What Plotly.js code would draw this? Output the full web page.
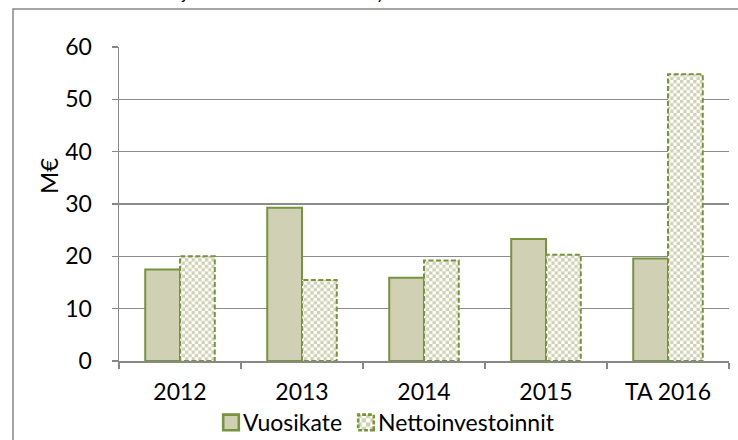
<!DOCTYPE html>
<html>
<head>
<meta charset="utf-8">
<script src="https://cdn.plot.ly/plotly-3.0.1.min.js"></script>
<style>
html,body{margin:0;padding:0;background:#fff;}
#chart{width:738px;height:440px;}
.barlayer .trace:nth-of-type(2) .point path{stroke-dasharray:5 2.5;fill:url(#checker) !important;}
.legend .legendpoints path{transform:translate(28px,0px) scale(1.3);}
.legend .traces:nth-of-type(2) .legendpoints path{stroke-dasharray:3 1.5;fill:url(#checker) !important;}
</style>
</head>
<body>
<svg width="0" height="0" style="position:absolute">
  <defs>
    <pattern id="checker" patternUnits="userSpaceOnUse" width="6.6" height="6.6">
      <rect x="0" y="0" width="6.6" height="6.6" fill="#FFFFFF"/>
      <rect x="0" y="0" width="3.3" height="3.3" fill="#D0D0B3"/>
      <rect x="3.3" y="3.3" width="3.3" height="3.3" fill="#D0D0B3"/>
    </pattern>
  </defs>
</svg>
<div id="chart"></div>
<script>
const categories = ["2012", "2013", "2014", "2015", "TA 2016"];
const vuosikate = [17.5, 29.3, 15.9, 23.3, 19.6];
const nettoinvestoinnit = [20.0, 15.5, 19.2, 20.3, 54.8];
const yTicks = [0, 10, 20, 30, 40, 50, 60];
const seriesNames = ["Vuosikate", "Nettoinvestoinnit"];
const titleText = "Kuvio 8. Vuosikatteen ja nettoinvestointien kehitys";
const yTitle = "M€";

const green = "#77933C";
const fontFam = "Lato, 'Open Sans', sans-serif";

const traces = [
  {
    type: "bar", name: seriesNames[0], x: categories, y: vuosikate,
    marker: {color: "#D0D0B5", line: {color: green, width: 2}},
    legendwidth: 90, hoverinfo: "none"
  },
  {
    type: "bar", name: seriesNames[1], x: categories, y: nettoinvestoinnit,
    marker: {color: "#E6E6D8", line: {color: green, width: 2}},
    legendwidth: 260, hoverinfo: "none"
  }
];

const layout = {
  width: 738, height: 440,
  margin: {l: 119, r: 9, t: 47, b: 79, autoexpand: false},
  paper_bgcolor: "#FFFFFF", plot_bgcolor: "#FFFFFF",
  font: {family: fontFam, size: 18, color: "#000"},
  barmode: "group", bargap: 0.43, bargroupgap: 0,
  showlegend: true,
  legend: {orientation: "h", x: (203 - 119) / 610, xanchor: "left", y: (361 - 401) / 314, yanchor: "top",
           font: {size: 23}, itemwidth: 30, traceorder: "normal"},
  xaxis: {
    type: "category", tickson: "boundaries", ticks: "outside", ticklen: 6,
    tickcolor: "#888", tickwidth: 1.5, showline: true, linecolor: "#888", linewidth: 1.5,
    showgrid: false, tickfont: {size: 23}, ticklabelstandoff: 10, fixedrange: true
  },
  yaxis: {
    range: [0, 60], tickvals: yTicks, ticks: "outside", ticklen: 6, tickcolor: "#888", tickwidth: 1.5,
    showline: true, linecolor: "#888", linewidth: 1.5,
    showgrid: true, gridcolor: "#8C8C8C", gridwidth: 1.5, zeroline: false,
    tickfont: {size: 23}, ticklabelstandoff: 15, fixedrange: true
  },
  annotations: [
    {text: yTitle, xref: "paper", yref: "paper", x: (48 - 119) / 610, y: (361 - 176) / 314, textangle: -90,
     showarrow: false, font: {size: 24}, xanchor: "center", yanchor: "middle"},
    {text: titleText, xref: "paper", yref: "paper", x: (14 - 119) / 610, y: (361 - 5) / 314,
     xanchor: "left", yanchor: "bottom", showarrow: false, font: {size: 17}}
  ],
  shapes: [
    {type: "rect", xref: "paper", yref: "paper", x0: (13 - 119) / 610, x1: (760 - 119) / 610,
     y0: (361 - 460) / 314, y1: (361 - 9) / 314, line: {color: "#888", width: 1.5}, fillcolor: "rgba(0,0,0,0)", layer: "below"}
  ]
};

Plotly.newPlot("chart", traces, layout, {displayModeBar: false, staticPlot: true});
</script>
</body>
</html>
